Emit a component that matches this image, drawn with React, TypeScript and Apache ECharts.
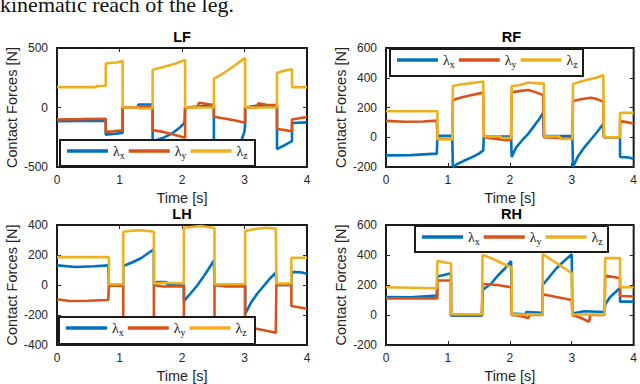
import React, { useEffect, useRef } from "react";
import * as echarts from "echarts";

// ---- data: [time s, force N] ----
const LF_X = [[0,-115],[0.3,-113],[0.6,-112],[0.78,-110],[0.78,-228],[0.9,-222],[1.05,-213],[1.05,0],[1.3,0],[1.3,25],[1.53,25],[1.53,-285],[1.7,-255],[1.85,-215],[1.95,-175],[2.04,-130],[2.05,0],[2.3,10],[2.51,10],[2.51,-400],[2.75,-330],[2.95,-280],[3.0,-200],[3.01,-150],[3.01,0],[3.2,15],[3.52,15],[3.52,-350],[3.65,-315],[3.76,-283],[3.76,-130],[4,-125]];
const LF_Y = [[0,-101],[0.4,-98],[0.78,-95],[0.78,-205],[0.9,-200],[1.05,-192],[1.05,0],[1.25,0],[1.3,8],[1.53,5],[1.53,-190],[1.7,-205],[1.85,-225],[2.05,-255],[2.05,0],[2.25,0],[2.27,40],[2.4,30],[2.51,20],[2.51,-78],[2.7,-95],[2.85,-110],[3.01,-129],[3.01,0],[3.2,0],[3.22,35],[3.35,22],[3.52,20],[3.52,-180],[3.65,-190],[3.76,-199],[3.76,-101],[4,-80]];
const LF_Z = [[0,171],[0.63,171],[0.63,180],[0.78,183],[0.78,370],[0.95,378],[1.05,390],[1.05,0],[1.3,0],[1.3,-8],[1.53,-8],[1.53,318],[1.7,340],[1.9,370],[2.05,400],[2.05,0],[2.51,0],[2.51,240],[2.7,300],[2.85,355],[3.01,417],[3.01,0],[3.52,0],[3.52,290],[3.65,310],[3.76,322],[3.76,171],[4,171]];

const RF_X = [[0,-122],[0.4,-120],[0.82,-110],[0.83,-5],[0.83,10],[1.07,10],[1.08,-200],[1.15,-180],[1.25,-160],[1.4,-132],[1.5,-110],[1.57,-88],[1.58,5],[2.02,5],[2.03,-133],[2.1,-70],[2.2,-20],[2.3,25],[2.4,80],[2.47,120],[2.54,165],[2.55,8],[3.01,8],[3.02,-200],[3.1,-130],[3.2,-70],[3.3,-20],[3.4,30],[3.51,90],[3.52,0],[3.78,0],[3.78,-133],[3.9,-135],[4,-145]];
const RF_Y = [[0,110],[0.3,104],[0.6,106],[0.82,112],[0.83,-10],[1.07,-10],[1.08,250],[1.2,265],[1.35,280],[1.57,300],[1.58,0],[1.75,-10],[1.95,-20],[2.02,-20],[2.03,302],[2.15,310],[2.3,318],[2.4,305],[2.54,283],[2.55,0],[2.8,-5],[3.01,-5],[3.02,243],[3.15,255],[3.3,265],[3.4,258],[3.51,238],[3.52,0],[3.78,0],[3.78,110],[4,92]];
const RF_Z = [[0,175],[0.83,175],[0.83,-15],[1.07,-15],[1.08,345],[1.2,355],[1.35,362],[1.57,375],[1.58,5],[1.85,5],[1.87,-5],[2.02,-5],[2.03,345],[2.15,350],[2.3,368],[2.45,362],[2.55,362],[2.56,5],[2.8,5],[2.82,-12],[3.01,-12],[3.02,358],[3.15,375],[3.3,392],[3.4,400],[3.51,418],[3.52,0],[3.78,0],[3.78,164],[4,164]];

const LH_X = [[0,131],[0.3,120],[0.6,125],[0.82,131],[0.83,0],[1.06,0],[1.06,127],[1.2,150],[1.35,180],[1.45,210],[1.55,238],[1.55,0],[1.6,20],[1.75,20],[1.77,0],[2.03,0],[2.03,-107],[2.15,-50],[2.25,0],[2.35,60],[2.43,110],[2.51,164],[2.52,0],[3.01,0],[3.01,-195],[3.1,-120],[3.2,-60],[3.3,-10],[3.4,40],[3.5,82],[3.51,0],[3.75,0],[3.76,87],[3.9,85],[4,75]];
const LH_Y = [[0,-95],[0.2,-107],[0.5,-105],[0.82,-100],[0.83,-5],[1.06,-5],[1.06,-330],[1.3,-340],[1.55,-330],[1.55,0],[1.7,-10],[2.03,-10],[2.03,-340],[2.3,-350],[2.52,-340],[2.52,0],[2.7,-10],[3.01,-10],[3.01,-270],[3.17,-290],[3.35,-305],[3.5,-318],[3.51,0],[3.75,0],[3.75,-140],[4,-158]];
const LH_Z = [[0,186],[0.83,186],[0.83,5],[1.06,5],[1.06,355],[1.2,362],[1.35,365],[1.55,355],[1.55,10],[1.75,15],[2.03,10],[2.03,382],[2.3,393],[2.52,380],[2.52,5],[3.01,5],[3.01,360],[3.2,375],[3.35,382],[3.5,377],[3.51,10],[3.75,10],[3.75,182],[4,182]];

const RH_X = [[0,120],[0.4,118],[0.82,130],[0.83,256],[0.95,268],[1.05,279],[1.05,-5],[1.55,-5],[1.56,167],[1.7,210],[1.8,260],[1.92,310],[2.02,360],[2.03,10],[2.25,5],[2.27,20],[2.53,15],[2.53,200],[2.65,260],[2.75,310],[2.85,350],[3.0,405],[3.01,10],[3.2,25],[3.53,20],[3.54,70],[3.62,120],[3.7,150],[3.78,180],[3.78,89],[4,89]];
const RH_Y = [[0,111],[0.83,111],[0.83,230],[1.05,230],[1.05,0],[1.55,0],[1.56,207],[1.8,200],[2.02,185],[2.03,0],[2.15,-5],[2.3,-20],[2.32,0],[2.53,0],[2.53,138],[2.75,120],[3.0,100],[3.01,0],[3.15,-20],[3.28,-45],[3.3,0],[3.53,0],[3.54,263],[3.65,255],[3.78,245],[3.78,127],[4,123]];
const RH_Z = [[0,185],[0.4,182],[0.82,178],[0.83,361],[0.95,350],[1.05,345],[1.05,5],[1.55,5],[1.56,401],[1.75,370],[1.9,340],[2.03,317],[2.03,3],[2.53,3],[2.53,406],[2.7,360],[2.85,320],[3.0,279],[3.01,3],[3.53,3],[3.54,379],[3.78,379],[3.78,185],[4,185]];

const TITLES = ["LF", "RF", "LH", "RH"];
const COMPONENTS = ["x", "y", "z"];
const COLORS = ["#0072BD", "#D95319", "#EDB120"];
const X_MIN = 0, X_MAX = 4, X_STEP = 1;
const Y_RANGES = [[-500, 500, 500], [-200, 600, 200], [-400, 400, 200], [-200, 600, 200]];
const X_NAME = "Time [s]";
const Y_NAME = "Contact Forces [N]";
const CAPTION = "kinematic reach of the leg.";

const DATA = [[LF_X, LF_Y, LF_Z], [RF_X, RF_Y, RF_Z], [LH_X, LH_Y, LH_Z], [RH_X, RH_Y, RH_Z]];

// layout (pixels)
const GRIDS = [
  { left: 57, top: 48, width: 250, height: 119 },
  { left: 386, top: 48, width: 251, height: 119 },
  { left: 57, top: 225, width: 250, height: 120 },
  { left: 386, top: 225, width: 251, height: 120 },
];
const LEGEND_BOXES = [
  { x: 60, y: 140, w: 195, h: 26 },
  { x: 390, y: 49, w: 193, h: 27 },
  { x: 59, y: 317, w: 196, h: 27 },
  { x: 415, y: 226, w: 193, h: 26 },
];

const FONT = "'Liberation Sans', Arial, Helvetica, sans-serif";
const INK = "#262626";

export default function App() {
  const ref = useRef<HTMLDivElement>(null);
  useEffect(() => {
    if (!ref.current) return;
    const chart = echarts.init(ref.current, null, { renderer: "svg" });
    const xAxis: any[] = [];
    const yAxis: any[] = [];
    const series: any[] = [];
    const legend: any[] = [];
    const title: any[] = [];
    const graphic: any[] = [];

    GRIDS.forEach((g, i) => {
      const [ymin, ymax, yint] = Y_RANGES[i];
      const tick = { show: true, inside: true, length: 4, lineStyle: { color: INK, width: 1 } };
      const line = { show: false, onZero: false };
      xAxis.push({
        type: "value", gridIndex: i, min: X_MIN, max: X_MAX, interval: X_STEP, position: "bottom",
        axisLine: line, axisTick: tick, splitLine: { show: false },
        axisLabel: { color: INK, fontSize: 12, fontFamily: FONT, margin: 7 },
        name: X_NAME, nameLocation: "middle", nameGap: 23,
        nameTextStyle: { color: INK, fontSize: 14.5, fontFamily: FONT },
      });
      xAxis.push({
        type: "value", gridIndex: i, min: X_MIN, max: X_MAX, interval: X_STEP, position: "top",
        axisLine: line, axisTick: tick, splitLine: { show: false }, axisLabel: { show: false },
      });
      yAxis.push({
        type: "value", gridIndex: i, min: ymin, max: ymax, interval: yint, position: "left",
        axisLine: line, axisTick: tick, splitLine: { show: false },
        axisLabel: { color: INK, fontSize: 12, fontFamily: FONT, margin: 9 },
        name: Y_NAME, nameLocation: "middle", nameGap: 38, nameRotate: 90,
        nameTextStyle: { color: INK, fontSize: 14.5, fontFamily: FONT },
      });
      yAxis.push({
        type: "value", gridIndex: i, min: ymin, max: ymax, interval: yint, position: "right",
        axisLine: line, axisTick: tick, splitLine: { show: false }, axisLabel: { show: false },
      });
      DATA[i].forEach((d, k) => {
        series.push({
          type: "line", name: COMPONENTS[k], xAxisIndex: 2 * i, yAxisIndex: 2 * i,
          data: d, showSymbol: false, symbol: "none", clip: true, z: 1,
          color: COLORS[k], lineStyle: { color: COLORS[k], width: 2.6 },
        });
      });
      const b = LEGEND_BOXES[i];
      graphic.push({
        type: "rect", z: 20, shape: { x: b.x, y: b.y, width: b.w, height: b.h },
        style: { fill: "#fff", stroke: "#1a1a1a", lineWidth: 2 },
      });
      legend.push({
        data: COMPONENTS, left: b.x + 7, top: b.y + 4, orient: "horizontal",
        icon: "rect", itemWidth: 41, itemHeight: 3.5, itemGap: 4, padding: 0,
        selectedMode: false, z: 30,
        formatter: (n: string) => `{a|λ}{b|${n}}`,
        textStyle: {
          color: "#111",
          rich: {
            a: { fontSize: 14, fontFamily: "'Liberation Serif', serif", color: "#111" },
            b: { fontSize: 10, fontFamily: "'Liberation Serif', serif", color: "#111", padding: [8, 0, 0, 0] },
          },
        },
      });
      title.push({
        text: TITLES[i], left: g.left + g.width / 2, top: g.top - 19, textAlign: "center", padding: 0,
        textStyle: { fontSize: 14.5, fontWeight: "bold", color: "#000", fontFamily: FONT },
      });
    });

    graphic.push({
      type: "text", x: 0, y: 4, z: 10,
      style: { text: CAPTION, fontSize: 22, fontFamily: "'Liberation Serif', 'Times New Roman', serif", fill: "#111", verticalAlign: "middle" },
    });

    chart.setOption({
      animation: false,
      backgroundColor: "#fff",
      grid: GRIDS.map((g) => ({ ...g, show: true, borderColor: "#1a1a1a", borderWidth: 2, backgroundColor: "#fff", containLabel: false })),
      xAxis, yAxis, series, legend, title, graphic,
    });
    return () => chart.dispose();
  }, []);
  return <div ref={ref} style={{ position: "absolute", left: 0, top: 0, width: 640, height: 384 }} />;
}
